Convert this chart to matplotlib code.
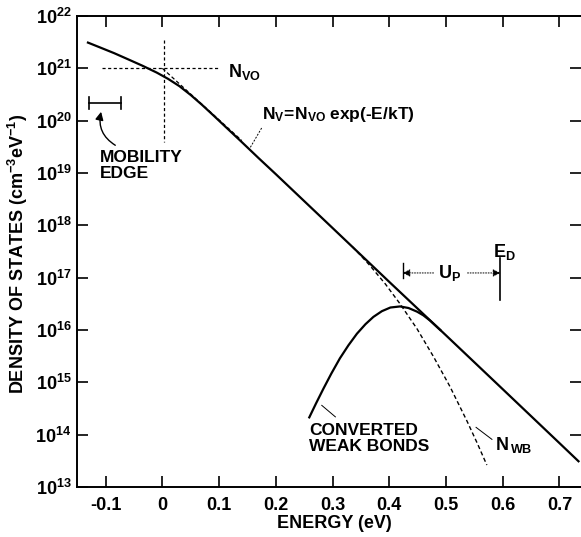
import numpy as np
import matplotlib
matplotlib.use("Agg")
import matplotlib.pyplot as plt
from matplotlib.ticker import FuncFormatter, NullLocator, FixedLocator

plt.rcParams['font.family'] = ['Liberation Sans', 'DejaVu Sans']
plt.rcParams['font.weight'] = 'bold'
plt.rcParams['mathtext.fontset'] = 'custom'
plt.rcParams['mathtext.rm'] = 'Liberation Sans:bold'
plt.rcParams['mathtext.bf'] = 'Liberation Sans:bold'
plt.rcParams['mathtext.it'] = 'Liberation Sans:bold'
plt.rcParams['mathtext.sf'] = 'Liberation Sans:bold'

# ---- data ----
total_E = [-0.133, -0.11, -0.085, -0.06, -0.035, -0.01, 0.01, 0.03, 0.05, 0.07, 0.09,
           0.115, 0.14, 0.17, 0.2, 0.3, 0.4, 0.5, 0.6, 0.7, 0.735]
total_N = [3.16e21, 2.51e21, 1.95e21, 1.48e21, 1.12e21, 8.3e20, 6.3e20, 4.57e20, 3.09e20,
           2.0e20, 1.26e20, 7.0e19, 3.9e19, 1.91e19, 9.5e18, 8.9e17, 8.3e16, 7.9e15,
           7.4e14, 6.9e13, 3.0e13]

expo_E = [0.0, 0.14]
expo_N = [1.0e21, 4.17e19]

conv_E = [0.259, 0.271, 0.284, 0.298, 0.313, 0.328, 0.343, 0.358, 0.372, 0.387,
          0.402, 0.419, 0.434, 0.449, 0.460, 0.472, 0.49]
conv_N = [2.14e14, 3.98e14, 7.6e14, 1.48e15, 2.88e15, 5.1e15, 8.5e15, 1.29e16, 1.78e16, 2.29e16,
          2.69e16, 2.82e16, 2.63e16, 2.24e16, 1.91e16, 1.51e16, 1.0e16]

nwb_E = [0.335, 0.350, 0.366, 0.393, 0.419, 0.449, 0.478, 0.507, 0.537, 0.555, 0.572]
nwb_N = [3.89e17, 2.63e17, 1.70e17, 7.6e16, 3.16e16, 1.05e16, 3.09e15, 8.3e14, 1.82e14, 6.9e13, 2.63e13]

x_ticks = [-0.1, 0, 0.1, 0.2, 0.3, 0.4, 0.5, 0.6, 0.7]
x_tick_labels = ['-0.1', '0', '0.1', '0.2', '0.3', '0.4', '0.5', '0.6', '0.7']
y_exponents = [13, 14, 15, 16, 17, 18, 19, 20, 21, 22]

N_VO = 1.0e21
E_D = 0.596
U_P_left = 0.4235

# ---- figure ----
fig = plt.figure(figsize=(5.81, 5.37), dpi=100)
ax = fig.add_axes([77/581, 1 - 487/537, 1 - 77/581, (487 - 16)/537])
ax.set_yscale('log')
ax.set_xlim(-0.1505, 0.738)
ax.set_ylim(1e13, 1e22)

lw = 1.6
ax.plot(total_E, total_N, color='black', lw=lw, solid_capstyle='butt', solid_joinstyle='round')
ax.plot(expo_E, expo_N, color='black', lw=0.9, ls=(0, (3, 2)))
ax.plot(conv_E, conv_N, color='black', lw=lw, solid_joinstyle='round')
ax.plot(nwb_E, nwb_N, color='black', lw=1.0, ls=(0, (3, 2)))

# crosshair at N_VO
ax.plot([-0.107, 0.102], [N_VO, N_VO], color='black', lw=0.9, ls=(0, (2.5, 2)))
ax.plot([0.002, 0.002], [10**21.54, 10**19.60], color='black', lw=0.9, ls=(0, (2.5, 2)))
ax.text(0.115, 10**20.83, r'$\mathrm{N_{VO}}$', fontsize=13, ha='left', va='baseline')

# N_V label
ax.text(0.176, 10**20.12, r'$\mathrm{N_V\!=\!N_{VO}\;exp(\text{-}E/kT)}$', fontsize=12.5,
        ha='left', va='center')
ax.plot([0.175, 0.154], [10**19.86, 10**19.47], color='black', lw=0.7, ls=(0, (2, 1.5)))

# mobility edge
ax.plot([-0.130, -0.073], [10**20.34, 10**20.34], color='black', lw=1.2)
ax.plot([-0.130, -0.130], [10**20.45, 10**20.23], color='black', lw=1.2)
ax.plot([-0.073, -0.073], [10**20.45, 10**20.23], color='black', lw=1.2)
ax.annotate('', xy=(-0.108, 10**20.17), xytext=(-0.083, 10**19.53),
            arrowprops=dict(arrowstyle='-|>', color='black', lw=1.0,
                            connectionstyle='arc3,rad=-0.35', mutation_scale=12,
                            shrinkA=0, shrinkB=0))
ax.text(-0.110, 10**19.44, 'MOBILITY\nEDGE', fontsize=12.5, ha='left', va='top',
        linespacing=1.05)

# E_D and U_P
ax.plot([E_D, E_D], [10**17.37, 10**16.57], color='black', lw=1.2)
ax.text(E_D + 0.007, 10**17.40, r'$\mathrm{E_D}$', fontsize=13, ha='center', va='baseline')
ax.plot([U_P_left, U_P_left], [10**17.28, 10**16.99], color='black', lw=1.0)
ax.text(0.507, 10**17.09, r'$\mathrm{U_P}$', fontsize=13, ha='center', va='center')
ax.annotate('', xy=(U_P_left, 10**17.09), xytext=(0.478, 10**17.09),
            arrowprops=dict(arrowstyle='-|>', color='black', lw=0.7, ls=':',
                            mutation_scale=11, shrinkA=0, shrinkB=0))
ax.annotate('', xy=(E_D, 10**17.09), xytext=(0.538, 10**17.09),
            arrowprops=dict(arrowstyle='-|>', color='black', lw=0.7, ls=':',
                            mutation_scale=11, shrinkA=0, shrinkB=0))

# converted weak bonds label
ax.text(0.259, 10**14.22, 'CONVERTED\nWEAK BONDS', fontsize=12.5, ha='left', va='top',
        linespacing=1.05)
ax.plot([0.281, 0.305], [10**14.56, 10**14.34], color='black', lw=0.7)

# N_WB label
ax.text(0.587, 10**13.70, r'$\mathrm{N_{\,WB}}$', fontsize=13, ha='left', va='baseline')
ax.plot([0.553, 0.581], [10**14.14, 10**13.91], color='black', lw=0.7)

# axes styling
ax.spines['right'].set_visible(False)
for s in ['left', 'bottom', 'top']:
    ax.spines[s].set_linewidth(1.4)
ax.xaxis.set_major_locator(FixedLocator(x_ticks))
ax.set_xticklabels(x_tick_labels)
ax.yaxis.set_major_locator(FixedLocator([10.0**e for e in y_exponents]))
ax.yaxis.set_minor_locator(NullLocator())
ax.yaxis.set_major_formatter(FuncFormatter(lambda v, p: r'$\mathrm{10^{%d}}$' % int(round(np.log10(v)))))
ax.tick_params(axis='both', which='major', direction='in', length=8, width=1.2,
               labelsize=13, top=True, right=True)
ax.tick_params(axis='x', pad=7)
ax.tick_params(axis='y', pad=4)

fig.text(334/581, 1 - 523/537, 'ENERGY (eV)', fontsize=13, ha='center', va='center')
fig.text(18/581, 1 - 254/537, r'DENSITY OF STATES (cm$^{\mathrm{-3}}$eV$^{\mathrm{-1}}$)',
         fontsize=13, ha='center', va='center', rotation=90)

fig.savefig('out.png', dpi=100)
